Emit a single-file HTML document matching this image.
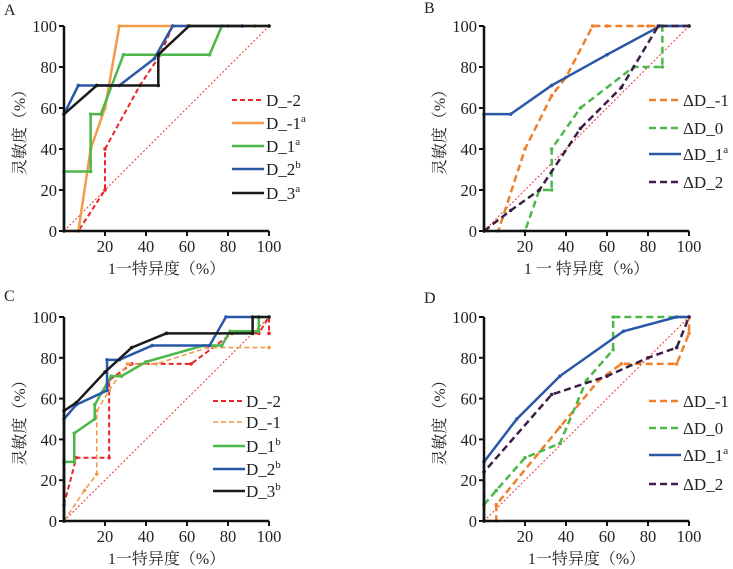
<!DOCTYPE html>
<html><head><meta charset="utf-8">
<style>
body{margin:0;background:#fff;width:733px;height:569px;overflow:hidden}
svg{display:block}
text{font-family:"Liberation Serif","Noto Serif CJK SC","Noto Sans CJK SC",serif;fill:#222}
</style></head>
<body>
<svg id="chart" width="733" height="569"></svg>
<script>
// ===== data =====
const xTicks=[20,40,60,80,100];
const yTicks=[0,20,40,60,80,100];
// Panel A
const aNames=["D_-2","D_-1","D_1","D_2","D_3"];
const aSup=["","a","a","b","a"];
const aD_m2x=[0,7,20,20,37,47,53,60,80,87,93,100];
const aD_m2y=[0,0,20,40,71,86,100,100,100,100,100,100];
const aD_m1x=[0,7,13,20,27,100];
const aD_m1y=[0,0,40,60,100,100];
const aD_1x=[0,0,13,13,18,29,71,77,100];
const aD_1y=[0,29,29,57,57,86,86,100,100];
const aD_2x=[0,0,7,27,44,53,87];
const aD_2y=[0,57,71,71,84,100,100];
const aD_3x=[0,16,46,46,61,100];
const aD_3y=[57,71,71,86,100,100];
// Panel B
const bNames=["ΔD_-1","ΔD_0","ΔD_1","ΔD_2"];
const bSup=["","","a",""];
const bD_m1x=[0,7,20,33,40,53,60,80,100];
const bD_m1y=[0,0,40,66,75,100,100,100,100];
const bD_0x=[0,20,27,33,33,47,73,87,87,100];
const bD_0y=[0,0,20,20,40,60,80,80,100,100];
const bD_1x=[0,0,13,33,60,86,100];
const bD_1y=[0,57,57,71,86,100,100];
const bD_2x=[0,13,27,47,67,85,100];
const bD_2y=[0,10,20,50,70,100,100];
// Panel C
const cNames=["D_-2","D_-1","D_1","D_2","D_3"];
const cSup=["","","b","b","b"];
const cD_m2x=[0,0,6,22,22,33,62,82,95,100,100];
const cD_m2y=[0,8,31,31,69,77,77,92,92,100,92];
const cD_m1x=[0,10,16,16,22,31,45,70,100];
const cD_m1y=[0,15,23,54,64,77,77,85,85];
const cD_1x=[0,0,5,5,15,15,23,28,40,68,77,81,95,95,100];
const cD_1y=[0,29,29,43,50,57,71,71,78,86,86,93,93,100,100];
const cD_2x=[0,0,6,21,21,27,43,71,79,95];
const cD_2y=[0,50,57,64,79,79,86,86,100,100];
const cD_3x=[0,0,6,20,33,50,92,92,100];
const cD_3y=[0,54,58,73,85,92,92,100,100];
// Panel D
const dNames=["ΔD_-1","ΔD_0","ΔD_1","ΔD_2"];
const dSup=["","","a",""];
const dD_m1x=[0,6,6,37,56,67,94,100,100];
const dD_m1y=[0,0,8,46,69,77,77,92,100];
const dD_0x=[0,6,20,37,50,63,63,100];
const dD_0y=[8,15,31,38,69,84,100,100];
const dD_1x=[0,0,16,37,68,94,100];
const dD_1y=[0,29,50,71,93,100,100];
const dD_2x=[0,0,33,60,80,94,100];
const dD_2y=[0,24,62,71,80,85,100];

const NS="http://www.w3.org/2000/svg";
const svg=document.getElementById('chart');
function el(tag,attrs,parent,txt){const e=document.createElementNS(NS,tag);for(const k in attrs)e.setAttribute(k,attrs[k]);if(txt!==undefined)e.textContent=txt;(parent||svg).appendChild(e);return e;}

function panel(cfg){
  const g=el('g',{});
  
  
  const sx=v=>cfg.x0+(cfg.x1-cfg.x0)*v/100;
  const sy=v=>cfg.y0-(cfg.y0-cfg.y1)*v/100;
  const lab=el('text',{x:cfg.lx,y:cfg.ly,'font-size':16},g,cfg.id);
  
  
  const dg=el('line',{x1:sx(0),y1:sy(0),x2:sx(100),y2:sy(100),stroke:'#e33',"stroke-width":1,"stroke-dasharray":"2,2"},g);
  
  
  cfg.series.forEach((s,i)=>{
    const pts=s.x.map((v,j)=>sx(v)+','+sy(s.y[j])).join(' ');
    const pl=el('polyline',{points:pts,fill:'none',stroke:s.c,'stroke-width':s.w,'stroke-dasharray':s.d||'none','stroke-linejoin':'round'},g);
    
    
    s.x.forEach((v,j)=>{
      const m=el('circle',{cx:sx(v),cy:sy(s.y[j]),r:1.8,fill:s.c},g);
      
      
    });
    const ly=cfg.legY[i];
    const ll=el('line',{x1:cfg.legX,y1:ly,x2:cfg.legX+32,y2:ly,stroke:s.c,'stroke-width':s.w,'stroke-dasharray':s.d||'none'},g);
    
    
    const lt=el('text',{x:cfg.legTX,y:ly+6,'font-size':17},g);
    
    
    lt.appendChild(document.createTextNode(cfg.names[i]));
    if(cfg.sup[i]){el('tspan',{dy:-7,'font-size':11},lt,cfg.sup[i]);}
  });
  const ax=el('path',{d:`M${sx(0)},${sy(100)} L${sx(0)},${sy(0)} L${sx(100)},${sy(0)}`,fill:'none',stroke:'#111','stroke-width':2.5},g);
  
  
  yTicks.forEach(t=>{
    el('line',{x1:sx(0)-5,y1:sy(t),x2:sx(0),y2:sy(t),stroke:'#111','stroke-width':2},g);
    const tt=el('text',{x:sx(0)-7,y:sy(t)+6,'font-size':16.5,'text-anchor':'end'},g,t);
    
    
  });
  xTicks.forEach(t=>{
    el('line',{x1:sx(t),y1:sy(0),x2:sx(t),y2:sy(0)+5,stroke:'#111','stroke-width':2},g);
    const tt=el('text',{x:sx(t),y:sy(0)+21,'font-size':16.5,'text-anchor':'middle'},g,t);
    
    
  });
  const xt=el('text',{x:(sx(0)+sx(100))/2,y:sy(0)+43,'font-size':16,'text-anchor':'middle',fill:'#333'},g,cfg.xTitle);
  
  
  const yc=(sy(0)+sy(100))/2;
  const yt=el('text',{x:cfg.yTitleX,y:yc,'font-size':16,'text-anchor':'middle',transform:`rotate(-90 ${cfg.yTitleX} ${yc})`,fill:'#444'},g,'灵敏度（%）');
  
  
}

const RED='#e8262a',ORA='#f39a4c',GRN='#4cb84a',BLU='#2a58a8',BLK='#1a1a1a',PUR='#3d1f45',ORB='#f07f2a';

panel({id:'A',lx:4,ly:15,x0:64,x1:269,y0:231,y1:26,yTitleX:25,xTitle:'1一特异度（%）',
  names:aNames,sup:aSup,legX:232,legTX:266,legY:[100,123,146,169,193],
  series:[{x:aD_m2x,y:aD_m2y,c:RED,w:2,d:'5,3'},{x:aD_m1x,y:aD_m1y,c:ORA,w:2.5},{x:aD_1x,y:aD_1y,c:GRN,w:2.5},{x:aD_2x,y:aD_2y,c:BLU,w:2.5},{x:aD_3x,y:aD_3y,c:BLK,w:2.5}]});
panel({id:'B',lx:424,ly:13,x0:484,x1:689,y0:231,y1:26,yTitleX:445,xTitle:'1 一 特异度（%）',
  names:bNames,sup:bSup,legX:649,legTX:683,legY:[100,128,154,182],
  series:[{x:bD_m1x,y:bD_m1y,c:ORB,w:2.5,d:'7,4'},{x:bD_0x,y:bD_0y,c:GRN,w:2.5,d:'7,4'},{x:bD_1x,y:bD_1y,c:BLU,w:2.5},{x:bD_2x,y:bD_2y,c:PUR,w:2.5,d:'7,4'}]});
panel({id:'C',lx:4,ly:301,x0:64,x1:269,y0:521,y1:317,yTitleX:25,xTitle:'1一特异度（%）',
  names:cNames,sup:cSup,legX:213,legTX:246,legY:[401,422,446,469,491],
  series:[{x:cD_m2x,y:cD_m2y,c:RED,w:2,d:'5,3'},{x:cD_m1x,y:cD_m1y,c:ORA,w:1.6,d:'5,3'},{x:cD_1x,y:cD_1y,c:GRN,w:2.5},{x:cD_2x,y:cD_2y,c:BLU,w:2.5},{x:cD_3x,y:cD_3y,c:BLK,w:2.5}]});
panel({id:'D',lx:424,ly:303,x0:484,x1:689,y0:521,y1:317,yTitleX:445,xTitle:'1一特异度（%）',
  names:dNames,sup:dSup,legX:649,legTX:683,legY:[401,428,455,484],
  series:[{x:dD_m1x,y:dD_m1y,c:ORB,w:2.5,d:'7,4'},{x:dD_0x,y:dD_0y,c:GRN,w:2.5,d:'7,4'},{x:dD_1x,y:dD_1y,c:BLU,w:2.5},{x:dD_2x,y:dD_2y,c:PUR,w:2.5,d:'7,4'}]});
</script>
</body></html>
